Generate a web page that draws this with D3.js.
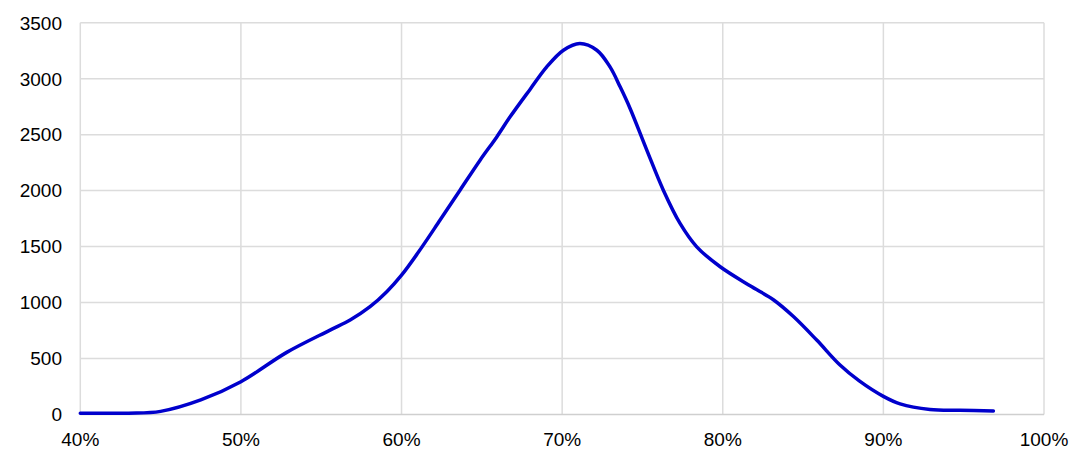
<!DOCTYPE html>
<html><head><meta charset="utf-8">
<script src="https://cdn.jsdelivr.net/npm/d3@7"></script>
<style>body{margin:0;background:#fff}svg{display:block}text{font-family:"Liberation Sans",Arial,sans-serif}</style>
</head><body><div id="chart"></div>
<script>
const xPct = [40,43,45,47.5,50,52.85,55.55,56.8,58.04,59.08,60,61,62.4,63.64,64.89,65.93,66.76,68,69.04,70.08,71.1,72.16,72.98,73.61,74.23,75.27,76.3,77.34,78.38,79.84,81.7,83.15,84.4,85.85,87.3,88.5,90,91.04,92.9,94.76,96.85];
const yVal = [12,12,28,130,293,555,754,844,963,1097,1245,1440,1737,2004,2272,2480,2659,2904,3105,3254,3314,3254,3105,2927,2734,2362,2004,1707,1498,1320,1150,1025,875,665,442,300,162,95,45,38,31];
const xTicks = [40,50,60,70,80,90,100];
const yTicks = [0,500,1000,1500,2000,2500,3000,3500];

const W=1077,H=462, m={l:80.3,r:33,t:22.7,b:47.5};
const svg=d3.select("#chart").append("svg").attr("width",W).attr("height",H);
const x=d3.scaleLinear().domain([40,100]).range([m.l,W-m.r]);
const y=d3.scaleLinear().domain([0,3500]).range([H-m.b,m.t]);

const grid="#dcdcdc";
svg.append("g").selectAll("line").data(xTicks).join("line")
  .attr("x1",d=>x(d)).attr("x2",d=>x(d)).attr("y1",y(0)).attr("y2",y(3500))
  .attr("stroke",grid).attr("stroke-width",1.5);
svg.append("g").selectAll("line").data(yTicks).join("line")
  .attr("x1",x(40)).attr("x2",x(100)).attr("y1",d=>y(d)).attr("y2",d=>y(d))
  .attr("stroke",d=>d===0?"#cfcfcf":grid).attr("stroke-width",1.5);

svg.append("g").selectAll("text").data(yTicks).join("text")
  .attr("x",62).attr("y",d=>y(d)).attr("dy","0.36em").attr("text-anchor","end")
  .attr("font-size",19).attr("fill","#000").text(d=>d);
svg.append("g").selectAll("text").data(xTicks).join("text")
  .attr("x",d=>x(d)).attr("y",446).attr("text-anchor","middle")
  .attr("font-size",19).attr("fill","#000").text(d=>d+"%");

const line=d3.line().x((d,i)=>x(xPct[i])).y(d=>y(d)).curve(d3.curveCatmullRom.alpha(0.5));
svg.append("path").datum(yVal).attr("d",line).attr("fill","none")
  .attr("stroke","#0000cc").attr("stroke-width",3.5).attr("stroke-linecap","round").attr("stroke-linejoin","round");
</script></body></html>
